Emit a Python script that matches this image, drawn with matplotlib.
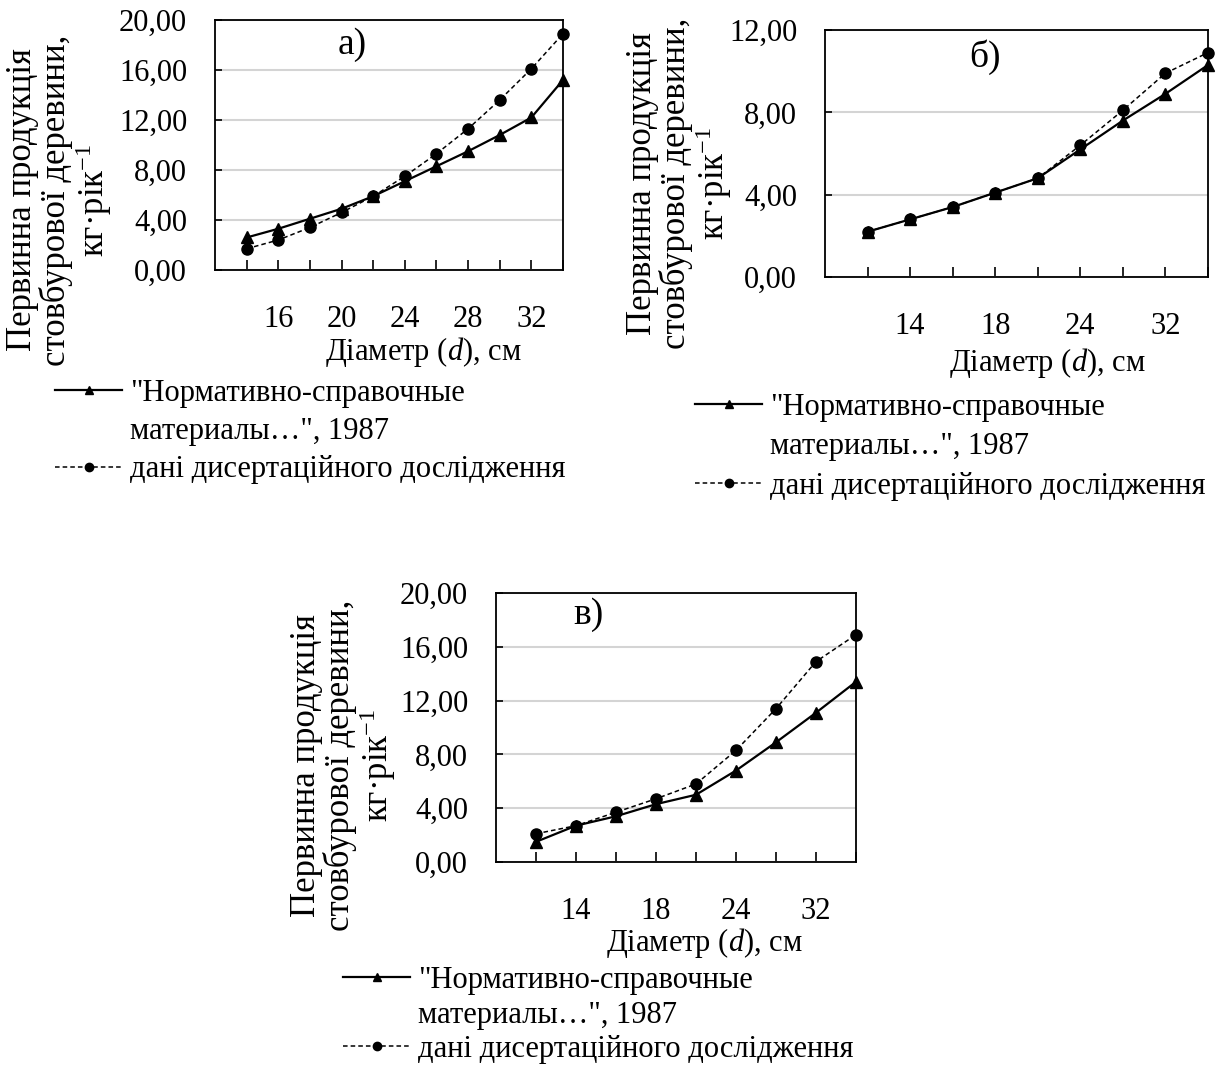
import matplotlib
matplotlib.use("Agg")
import matplotlib.pyplot as plt
from matplotlib.lines import Line2D

plt.rcParams['font.family'] = ['Liberation Serif', 'DejaVu Serif']
plt.rcParams['mathtext.fontset'] = 'custom'
plt.rcParams['mathtext.rm'] = 'Liberation Serif'
plt.rcParams['mathtext.it'] = 'Liberation Serif:italic'

# x categories (tick labels shown on every other category, as in the source)
labels_a = ["", "16", "", "20", "", "24", "", "28", "", "32", ""]
labels_b = ["", "14", "", "18", "", "24", "", "32", ""]
labels_c = ["", "14", "", "18", "", "24", "", "32", ""]

# a)
norm_a = [2.6, 3.3, 4.1, 4.9, 5.9, 7.1, 8.3, 9.5, 10.8, 12.2, 15.2]
diss_a = [1.7, 2.4, 3.4, 4.6, 5.9, 7.5, 9.3, 11.3, 13.6, 16.1, 18.9]
# б)
norm_b = [2.2, 2.8, 3.4, 4.1, 4.8, 6.2, 7.6, 8.9, 10.3]
diss_b = [2.2, 2.8, 3.4, 4.1, 4.8, 6.4, 8.1, 9.9, 10.9]
# в)
norm_c = [1.5, 2.7, 3.4, 4.3, 5.0, 6.8, 8.9, 11.1, 13.4]
diss_c = [2.1, 2.7, 3.7, 4.7, 5.8, 8.3, 11.4, 14.9, 16.9]

# first legend label wraps onto a second row with no handle
legend_rows = ['"Нормативно-справочные', 'материалы…", 1987',
               'дані дисертаційного дослідження']
ylabel = 'Первинна продукція\nстовбурової деревини,\nкг·рік$^{-1}$'
xlabel = 'Діаметр ($\\it{d}$), см'

W, H = 1224, 1067
fig = plt.figure(figsize=(W / 100, H / 100), dpi=100)


def px_axes(left, top, right, bottom):
    return fig.add_axes([left / W, 1 - bottom / H, (right - left) / W, (bottom - top) / H])


def draw_panel(ax, labels, norm, diss, ymax, ystep, tag, tag_xy, xlab_xy, ylab_xy, leg_xy,
               leg_space=0.3):
    n = len(labels)
    x = list(range(n))
    ax.plot(x, norm, color='black', lw=1.6, marker='^', ms=8, zorder=3, clip_on=False)
    ax.plot(x, diss, color='black', lw=1.1, ls=(0, (3, 2)), marker='o', ms=8, zorder=3,
            clip_on=False)
    ax.set_xlim(-1, n - 1)
    ax.set_ylim(0, ymax)
    ax.set_xticks(x)
    ax.set_xticklabels(labels)
    yt = [i * ystep for i in range(int(ymax / ystep) + 1)]
    ax.set_yticks(yt)
    ax.set_yticklabels([f"{v:.2f}".replace('.', ',') for v in yt])
    ax.tick_params(axis='x', direction='in', length=7, width=1.2, pad=25, labelsize=22)
    ax.tick_params(axis='y', direction='in', length=5, width=1.2, pad=20, labelsize=22)
    ax.grid(axis='y', color='#d4d4d4', lw=1.5)
    ax.set_axisbelow(True)
    for s in ax.spines.values():
        s.set_linewidth(1.3)
        s.set_color('black')
    ax.text(tag_xy[0], tag_xy[1], tag, transform=ax.transAxes, fontsize=27,
            ha='center', va='center')
    ax.set_xlabel(xlabel, fontsize=22)
    ax.xaxis.set_label_coords(*xlab_xy)
    ax.xaxis.label.set_va('center')
    ax.set_ylabel(ylabel, fontsize=25, linespacing=1.0, multialignment='center')
    ax.yaxis.set_label_coords(*ylab_xy)
    ax.yaxis.label.set_va('center')

    handles = [
        Line2D([], [], color='black', lw=1.6, marker='^', ms=6),
        Line2D([], [], color='none'),
        Line2D([], [], color='black', lw=1.1, ls=(0, (3, 2)), marker='o', ms=6),
    ]
    fig.legend(handles, legend_rows, loc='upper left',
               bbox_to_anchor=(leg_xy[0] / W, 1 - leg_xy[1] / H),
               frameon=False, fontsize=22, handlelength=2.2, handletextpad=0.26,
               labelspacing=leg_space, borderpad=0, borderaxespad=0, numpoints=1)


ax_a = px_axes(215, 20, 563, 270)
draw_panel(ax_a, labels_a, norm_a, diss_a, 20, 4, 'а)', (0.394, 0.90),
           (0.598, -0.33), (-0.445, 0.28), (55, 379))

ax_b = px_axes(825, 30, 1208, 277)
draw_panel(ax_b, labels_b, norm_b, diss_b, 12, 4, 'б)', (0.418, 0.89),
           (0.58, -0.35), (-0.379, 0.38), (695, 393), leg_space=0.34)

ax_c = px_axes(496, 593, 856, 862)
draw_panel(ax_c, labels_c, norm_c, diss_c, 20, 4, 'в)', (0.256, 0.92),
           (0.58, -0.30), (-0.422, 0.36), (343, 966), leg_space=0.18)

fig.savefig('out.png', dpi=100)
